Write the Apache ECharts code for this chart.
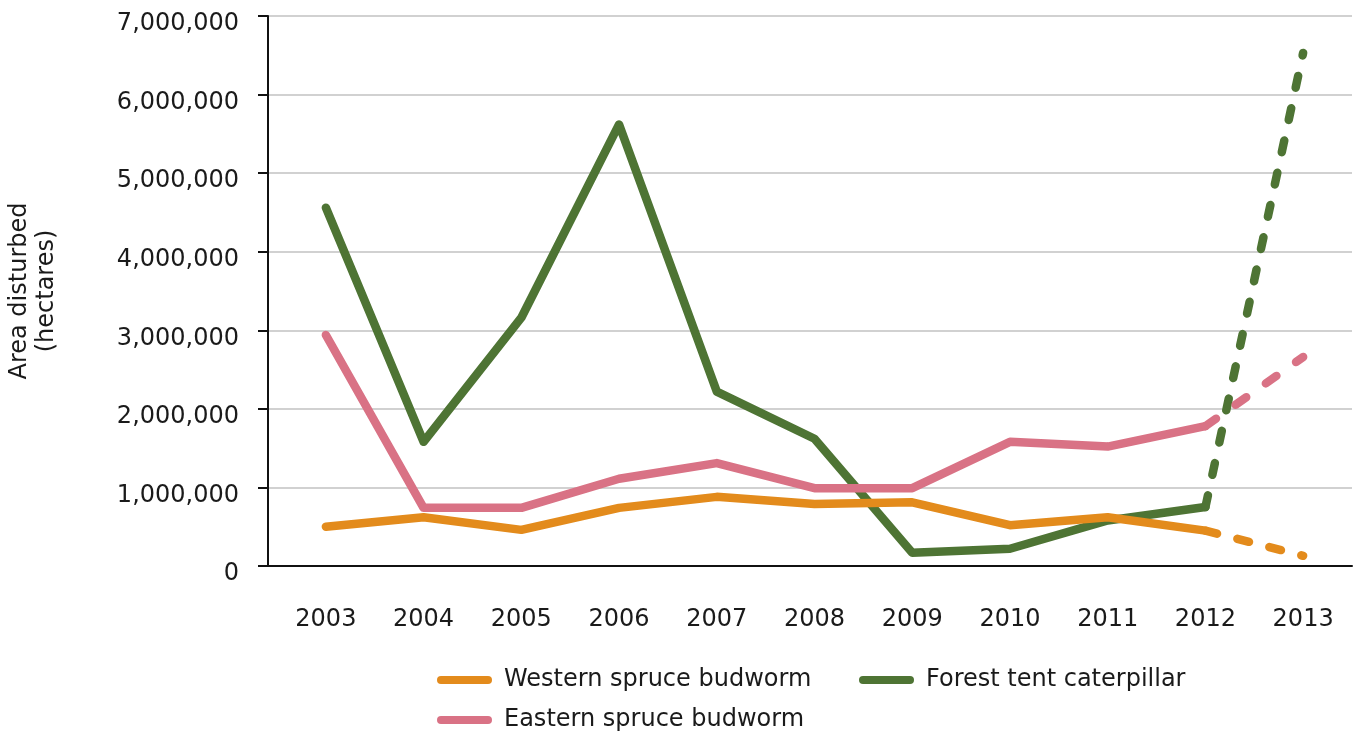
<!DOCTYPE html>
<html>
<head>
<meta charset="utf-8">
<title>Area disturbed by insects</title>
<script src="https://cdn.jsdelivr.net/npm/echarts@6/dist/echarts.min.js"></script>
<style>
  html, body { margin: 0; padding: 0; background: #ffffff; }
  #chart { width: 1356px; height: 734px; }
</style>
</head>
<body>
<div id="chart"></div>
<script>
// Area disturbed (hectares) by three forest insects; 2013 values are preliminary (dashed).
const years = ['2003', '2004', '2005', '2006', '2007', '2008', '2009', '2010', '2011', '2012', '2013'];
const westernSpruceBudworm = [500000, 620000, 460000, 740000, 880000, 790000, 810000, 520000, 620000, 450000, 130000];
const forestTentCaterpillar = [4560000, 1580000, 3160000, 5620000, 2220000, 1620000, 170000, 220000, 580000, 750000, 6530000];
const easternSpruceBudworm = [2940000, 740000, 740000, 1110000, 1310000, 990000, 990000, 1580000, 1520000, 1780000, 2660000];
const yTicks = [0, 1000000, 2000000, 3000000, 4000000, 5000000, 6000000, 7000000];

const FONT = 'DejaVu Sans';
const TEXT = '#1a1a1a';
const colors = {
  western: '#E38B1C',
  forest: '#4E7434',
  eastern: '#D97285'
};

// Last complete year is the join between the solid and dashed parts
const lastFinal = years.length - 2;
function solidPart(arr) {
  return arr.map((v, i) => (i <= lastFinal ? v : null));
}
function dashedPart(arr) {
  return arr.map((v, i) => (i >= lastFinal ? v : null));
}

function lineSeries(name, color, data, dash) {
  return {
    name: name,
    type: 'line',
    xAxisIndex: 1,
    yAxisIndex: 1,
    data: data,
    showSymbol: false,
    symbol: 'none',
    connectNulls: false,
    animation: false,
    itemStyle: { color: color },
    lineStyle: {
      color: color,
      width: 8.5,
      cap: 'round',
      join: 'round',
      type: dash || 'solid'
    },
    emphasis: { disabled: true }
  };
}

const legendIcon = 'path://M4,0 L51,0 A4,4 0 0 1 51,8 L4,8 A4,4 0 0 1 4,0 Z';

function legendItem(name, left, top) {
  return {
    left: left,
    top: top,
    padding: 0,
    orient: 'horizontal',
    itemWidth: 55,
    itemHeight: 8,
    icon: legendIcon,
    selectedMode: false,
    data: [name],
    textStyle: { fontFamily: FONT, fontSize: 24, color: TEXT, padding: [0, 0, 0, 7] }
  };
}

const yMax = yTicks[yTicks.length - 1];
const yStep = yTicks[1] - yTicks[0];

const option = {
  backgroundColor: '#ffffff',
  animation: false,
  grid: [
    { left: 268, right: 4, top: 16, bottom: 168, outerBoundsMode: 'none', containLabel: false },
    { left: 277, right: 4, top: 16, bottom: 168, outerBoundsMode: 'none', containLabel: false }
  ],
  xAxis: [
    {
      gridIndex: 0,
      type: 'category',
      data: years,
      axisLine: { show: true, lineStyle: { color: '#111111', width: 2 } },
      axisTick: { show: false },
      axisLabel: { show: false },
      splitLine: { show: false }
    },
    {
      gridIndex: 1,
      type: 'category',
      data: years,
      boundaryGap: true,
      axisLine: { show: false },
      axisTick: { show: false },
      splitLine: { show: false },
      axisLabel: {
        margin: 42,
        fontFamily: FONT,
        fontSize: 24,
        color: TEXT
      }
    }
  ],
  yAxis: [
    {
      gridIndex: 0,
      type: 'value',
      min: 0,
      max: yMax,
      interval: yStep,
      name: 'Area disturbed\n(hectares)',
      nameLocation: 'middle',
      nameRotate: 90,
      nameGap: 208,
      nameTextStyle: { fontFamily: FONT, fontSize: 24, color: TEXT, lineHeight: 27 },
      axisLine: { show: true, lineStyle: { color: '#111111', width: 2 } },
      axisTick: { show: true, length: 10, lineStyle: { color: '#111111', width: 2 } },
      axisLabel: {
        margin: 29,
        fontFamily: FONT,
        fontSize: 24,
        color: TEXT,
        verticalAlign: 'top',
        lineHeight: 16,
        formatter: v => v.toLocaleString('en-US')
      },
      splitLine: { show: true, lineStyle: { color: '#C2C2C2', width: 1.5 } }
    },
    {
      gridIndex: 1,
      type: 'value',
      min: 0,
      max: yMax,
      interval: yStep,
      show: false,
      splitLine: { show: false }
    }
  ],
  legend: [
    legendItem('Western spruce budworm', 437, 668),
    legendItem('Forest tent caterpillar', 859, 668),
    legendItem('Eastern spruce budworm', 437, 708)
  ],
  series: [
    lineSeries('Forest tent caterpillar', colors.forest, solidPart(forestTentCaterpillar)),
    lineSeries('Forest tent caterpillar', colors.forest, dashedPart(forestTentCaterpillar), [12, 21]),
    lineSeries('Eastern spruce budworm', colors.eastern, solidPart(easternSpruceBudworm)),
    lineSeries('Eastern spruce budworm', colors.eastern, dashedPart(easternSpruceBudworm), [13, 24]),
    lineSeries('Western spruce budworm', colors.western, solidPart(westernSpruceBudworm)),
    lineSeries('Western spruce budworm', colors.western, dashedPart(westernSpruceBudworm), [12, 21])
  ]
};

const chart = echarts.init(document.getElementById('chart'), null, { renderer: 'canvas' });
chart.setOption(option);
</script>
</body>
</html>
